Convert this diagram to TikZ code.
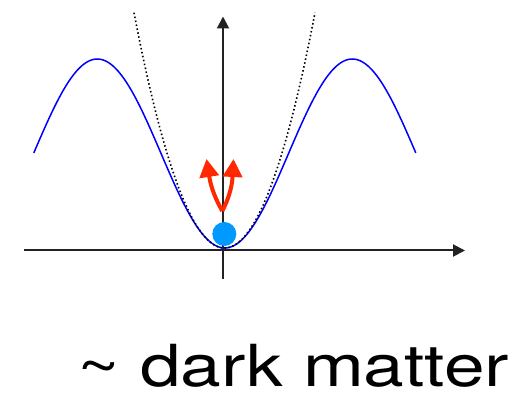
\documentclass[tikz,border=0pt]{standalone}
\usepackage{fontspec}
\setmainfont{TeX Gyre Heros}
\usetikzlibrary{arrows.meta}
\definecolor{axisgray}{HTML}{222222}
\definecolor{ballblue}{RGB}{0,153,255}
\definecolor{arrowred}{RGB}{255,40,0}
\begin{document}
\begin{tikzpicture}[x=1pt,y=-1pt,
  axisline/.style={line width=2pt,draw=axisgray,-{Triangle[width=12pt,length=12pt]}},
  potential/.style={line width=1.5pt,draw=blue},
  harmonic/.style={line width=1.6pt,draw=black,dash pattern=on 1.5pt off 2.5pt},
  kick/.style={line width=4pt,draw=arrowred,-{Triangle[width=19pt,length=18pt]}},
  ballstyle/.style={circle,fill=ballblue,minimum size=24pt,inner sep=0pt}]
\useasboundingbox (0,0) rectangle (531,395);
% axes
\coordinate (xl) at (24,250.5);
\coordinate (xr) at (465,250.5);
\coordinate (yb) at (223,279);
\coordinate (yt) at (223,16.5);
\draw[axisline] (xl) -- (xr);
\draw[axisline] (yb) -- (yt);
% potential
\draw[potential] plot[domain=-191:191,samples=200,smooth] ({224.8+\x},{153.5+94.5*cos(\x*1.411765)});
% harmonic approximation
\draw[harmonic] plot[domain=-90.5:90.5,samples=120,smooth] ({224.5+\x},{248-235.3*(\x/90.5)*(\x/90.5)});
% ball
\node[ballstyle] (ball) at (224.3,234) {};
% kicks
\coordinate (v) at (222.3,211);
\coordinate (tl) at (206.5,159);
\coordinate (tr) at (233.5,159);
\draw[kick] (v) .. controls (216,200) and (211,188) .. (tl);
\draw[kick] (v) .. controls (228,200) and (232,188) .. (tr);
% label
\node[anchor=base west,inner sep=0pt,font=\fontsize{58}{66}\selectfont] (lbl) at (77,387) {\scalebox{1.26}[1]{\textasciitilde{} dark matter}};
\end{tikzpicture}
\end{document}
